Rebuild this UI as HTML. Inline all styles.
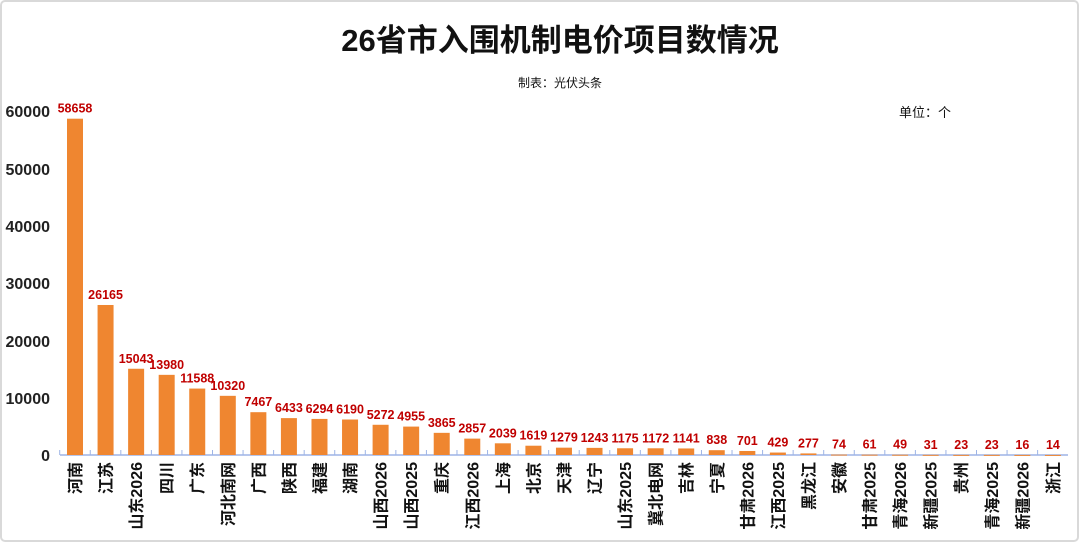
<!DOCTYPE html>
<html><head><meta charset="utf-8"><style>
html,body{margin:0;padding:0;background:#fff;}
svg{display:block;font-family:"Liberation Sans","Noto Sans CJK SC",sans-serif;}
</style></head><body>
<svg width="1080" height="543" viewBox="0 0 1080 543">
<rect x="1" y="1" width="1077" height="540" rx="4" fill="#fff" stroke="#d9d9d9" stroke-width="2"/>
<text x="560" y="51" font-size="31" font-weight="bold" text-anchor="middle" fill="#111">26省市入围机制电价项目数情况</text>
<text x="560" y="87" font-size="12" text-anchor="middle" fill="#111">制表：光伏头条</text>
<text x="925" y="117" font-size="13" text-anchor="middle" fill="#111">单位：个</text>
<g font-size="16" font-weight="bold" fill="#222" text-anchor="end">
<text x="50" y="117">60000</text><text x="50" y="175">50000</text><text x="50" y="232">40000</text>
<text x="50" y="289">30000</text><text x="50" y="347">20000</text><text x="50" y="404">10000</text><text x="50" y="461">0</text>
</g>
<line x1="60" y1="455" x2="1068" y2="455" stroke="#9db4e6" stroke-width="1.5"/>
<g id="bars"></g>
</svg>
<script>
const d=[["河南",58658],["江苏",26165],["山东2026",15043],["四川",13980],["广东",11588],["河北南网",10320],["广西",7467],["陕西",6433],["福建",6294],["湖南",6190],["山西2026",5272],["山西2025",4955],["重庆",3865],["江西2026",2857],["上海",2039],["北京",1619],["天津",1279],["辽宁",1243],["山东2025",1175],["冀北电网",1172],["吉林",1141],["宁夏",838],["甘肃2026",701],["江西2025",429],["黑龙江",277],["安徽",74],["甘肃2025",61],["青海2026",49],["新疆2025",31],["贵州",23],["青海2025",23],["新疆2026",16],["浙江",14]];
const g=document.getElementById('bars');let s='';
d.forEach((e,i)=>{const cx=75+i*30.56;const h=e[1]/60000*344;const y=455-h;
s+=`<rect x="${cx-8}" y="${y}" width="16" height="${Math.max(h,1)}" fill="#ef8630"/>`;
s+=`<line x1="${cx-15.3}" y1="450" x2="${cx-15.3}" y2="455" stroke="#9db4e6"/>`;
s+=`<text x="${cx}" y="${y-6}" font-size="12.5" font-weight="bold" fill="#c00000" text-anchor="middle">${e[1]}</text>`;
s+=`<text transform="translate(${cx+6},462) rotate(-90)" font-size="16" font-weight="bold" fill="#111" text-anchor="end">${e[0]}</text>`;});
g.innerHTML=s;
</script>
</body></html>
